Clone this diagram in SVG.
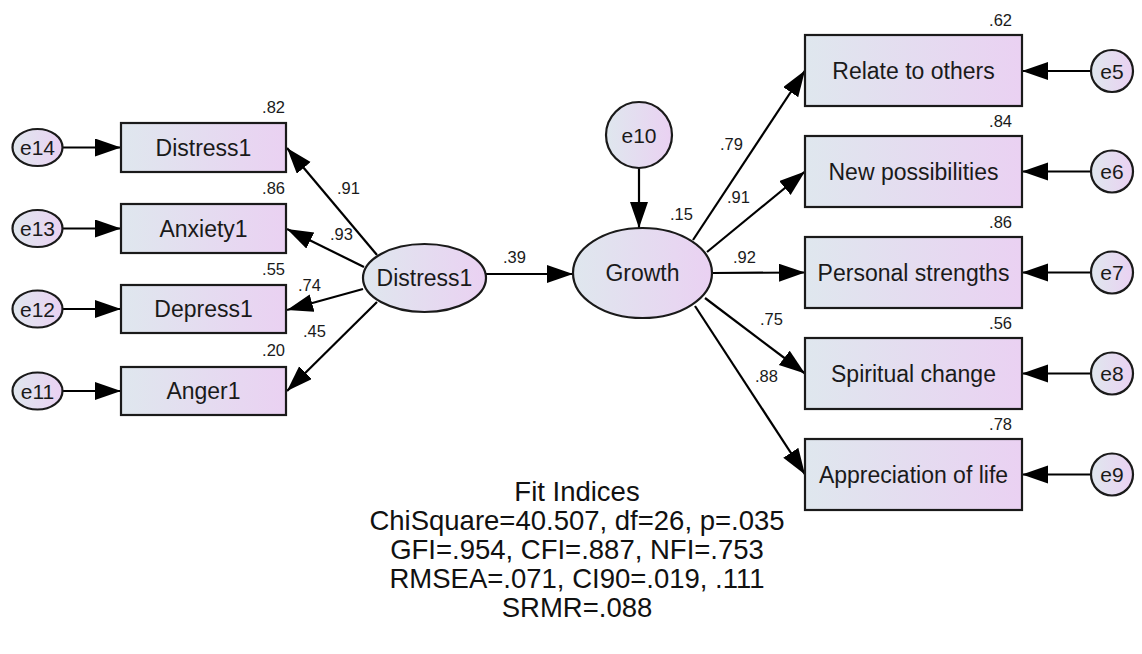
<svg xmlns="http://www.w3.org/2000/svg" width="1142" height="654" viewBox="0 0 1142 654">
  <defs>
    <linearGradient id="fillGrad" x1="0" y1="0" x2="1" y2="0">
      <stop offset="0" stop-color="#dfe7ee"/>
      <stop offset="1" stop-color="#ead1f2"/>
    </linearGradient>
    <marker id="arrow" markerUnits="userSpaceOnUse" markerWidth="28" markerHeight="20" refX="26" refY="9" orient="auto">
      <path d="M0,0 L26,9 L0,18 z" fill="#000"/>
    </marker>
  </defs>
  <style>
    .box { fill: url(#fillGrad); stroke: #1a1a1a; stroke-width: 2.2; }
    .lat { fill: url(#fillGrad); stroke: #1a1a1a; stroke-width: 2.2; }
    .err { fill: url(#fillGrad); stroke: #1a1a1a; stroke-width: 2.2; }
    .lbl { font-family: "Liberation Sans", Arial, sans-serif; font-size: 23px; fill: #1a1a1a; text-anchor: middle; }
    .elbl { font-family: "Liberation Sans", Arial, sans-serif; font-size: 21px; fill: #1a1a1a; text-anchor: middle; }
    .num { font-family: "Liberation Sans", Arial, sans-serif; font-size: 16.5px; fill: #1a1a1a; }
    .r2 { text-anchor: end; }
    .fit { font-family: "Liberation Sans", Arial, sans-serif; font-size: 27.5px; fill: #111; text-anchor: middle; }
    .conn line { stroke: #000; stroke-width: 2.2; marker-end: url(#arrow); }
  </style>

  <rect width="1142" height="654" fill="#fff"/>

  <!-- paths and error terms -->
  <g id="connectors" class="conn">
    <line x1="63" y1="147.5" x2="121" y2="147.5"/>
    <line x1="63" y1="228.5" x2="121" y2="228.5"/>
    <line x1="63" y1="309" x2="121" y2="309"/>
    <line x1="63" y1="391" x2="121" y2="391"/>
    <line x1="377" y1="255" x2="287" y2="148"/>
    <line x1="364" y1="267" x2="287" y2="229"/>
    <line x1="363" y1="289" x2="287" y2="310"/>
    <line x1="377" y1="302" x2="287" y2="391"/>
    <line x1="486" y1="274" x2="573" y2="274"/>
    <line x1="639" y1="168" x2="639" y2="228"/>
    <line x1="693" y1="240" x2="805" y2="70.5"/>
    <line x1="707" y1="252" x2="805" y2="171.5"/>
    <line x1="712" y1="273" x2="805" y2="272.5"/>
    <line x1="705" y1="298" x2="805" y2="373.5"/>
    <line x1="695" y1="306" x2="805" y2="474.5"/>
    <line x1="1091" y1="71" x2="1022" y2="71"/>
    <line x1="1091" y1="171.5" x2="1022" y2="171.5"/>
    <line x1="1091" y1="272.5" x2="1022" y2="272.5"/>
    <line x1="1091" y1="373.5" x2="1022" y2="373.5"/>
    <line x1="1091" y1="474.5" x2="1022" y2="474.5"/>
  </g>

  <!-- path coefficients -->
  <g id="coefficients" class="num">
    <text x="337" y="194">.91</text>
    <text x="330" y="240">.93</text>
    <text x="298" y="291">.74</text>
    <text x="303" y="337">.45</text>
    <text x="503" y="263">.39</text>
    <text x="670" y="220">.15</text>
    <text x="720" y="150">.79</text>
    <text x="727" y="203">.91</text>
    <text x="733" y="263">.92</text>
    <text x="760" y="325">.75</text>
    <text x="755" y="382">.88</text>
  </g>

  <!-- Distress indicators -->
  <g id="e14"><ellipse class="err" cx="37.5" cy="147.5" rx="25" ry="18.5"/><text class="elbl" x="37.5" y="155">e14</text></g>
  <g id="e13"><ellipse class="err" cx="37.5" cy="228.5" rx="25" ry="18.5"/><text class="elbl" x="37.5" y="236">e13</text></g>
  <g id="e12"><ellipse class="err" cx="37.5" cy="309" rx="25" ry="18.5"/><text class="elbl" x="37.5" y="316.5">e12</text></g>
  <g id="e11"><ellipse class="err" cx="37.5" cy="391" rx="25" ry="18.5"/><text class="elbl" x="37.5" y="398.5">e11</text></g>

  <g id="distress1-item">
    <rect class="box" x="121" y="123" width="165" height="49"/>
    <text class="lbl" x="203.5" y="155.5">Distress1</text>
    <text class="num r2" x="285" y="113">.82</text>
  </g>
  <g id="anxiety1">
    <rect class="box" x="121" y="204" width="165" height="49"/>
    <text class="lbl" x="203.5" y="236.5">Anxiety1</text>
    <text class="num r2" x="285" y="194">.86</text>
  </g>
  <g id="depress1">
    <rect class="box" x="121" y="285" width="165" height="48"/>
    <text class="lbl" x="203.5" y="317">Depress1</text>
    <text class="num r2" x="285" y="275">.55</text>
  </g>
  <g id="anger1">
    <rect class="box" x="121" y="367" width="165" height="48"/>
    <text class="lbl" x="203.5" y="399">Anger1</text>
    <text class="num r2" x="285" y="356">.20</text>
  </g>

  <!-- latent variables -->
  <g id="distress1-latent">
    <ellipse class="lat" cx="424.5" cy="278" rx="61.5" ry="34"/>
    <text class="lbl" x="424.5" y="286">Distress1</text>
  </g>
  <g id="e10">
    <circle class="err" cx="639" cy="135" r="33"/>
    <text class="elbl" x="639" y="142.5">e10</text>
  </g>
  <g id="growth">
    <ellipse class="lat" cx="642.5" cy="273" rx="69.5" ry="45"/>
    <text class="lbl" x="642.5" y="281">Growth</text>
  </g>

  <!-- Growth indicators -->
  <g id="relate">
    <rect class="box" x="805" y="35" width="217" height="71"/>
    <text class="lbl" x="913.5" y="79">Relate to others</text>
    <text class="num r2" x="1012" y="26">.62</text>
  </g>
  <g id="possibilities">
    <rect class="box" x="805" y="136" width="217" height="71"/>
    <text class="lbl" x="913.5" y="180">New possibilities</text>
    <text class="num r2" x="1012" y="127">.84</text>
  </g>
  <g id="strengths">
    <rect class="box" x="805" y="237" width="217" height="71"/>
    <text class="lbl" x="913.5" y="281">Personal strengths</text>
    <text class="num r2" x="1012" y="228">.86</text>
  </g>
  <g id="spiritual">
    <rect class="box" x="805" y="338" width="217" height="71"/>
    <text class="lbl" x="913.5" y="382">Spiritual change</text>
    <text class="num r2" x="1012" y="329">.56</text>
  </g>
  <g id="appreciation">
    <rect class="box" x="805" y="439" width="217" height="71"/>
    <text class="lbl" x="913.5" y="483">Appreciation of life</text>
    <text class="num r2" x="1012" y="430">.78</text>
  </g>

  <g id="e5"><circle class="err" cx="1112" cy="71" r="21"/><text class="elbl" x="1112" y="78.5">e5</text></g>
  <g id="e6"><circle class="err" cx="1112" cy="171.5" r="21"/><text class="elbl" x="1112" y="179">e6</text></g>
  <g id="e7"><circle class="err" cx="1112" cy="272.5" r="21"/><text class="elbl" x="1112" y="280">e7</text></g>
  <g id="e8"><circle class="err" cx="1112" cy="373.5" r="21"/><text class="elbl" x="1112" y="381">e8</text></g>
  <g id="e9"><circle class="err" cx="1112" cy="474.5" r="21"/><text class="elbl" x="1112" y="482">e9</text></g>

  <!-- fit statistics -->
  <g id="fit-indices" class="fit">
    <text x="577" y="501">Fit Indices</text>
    <text x="577" y="530">ChiSquare=40.507, df=26, p=.035</text>
    <text x="577" y="559">GFI=.954, CFI=.887, NFI=.753</text>
    <text x="577" y="588">RMSEA=.071, CI90=.019, .111</text>
    <text x="577" y="617">SRMR=.088</text>
  </g>
</svg>
